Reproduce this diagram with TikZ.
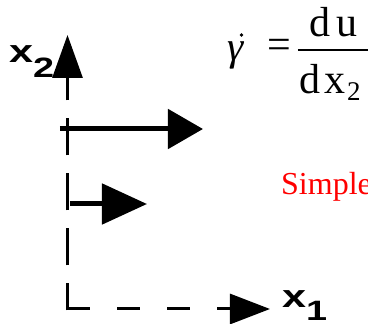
\documentclass[tikz,border=0pt]{standalone}
\usepackage{fontspec}
\setmainfont{Liberation Serif}
\newfontfamily\labelfont{Liberation Sans}
\usetikzlibrary{arrows.meta}
\tikzset{
  axisline/.style={line width=3pt},
  flowarrow/.style={line width=5pt},
  axislabel/.style={inner sep=0pt, font=\labelfont\bfseries\fontsize{32}{32}\selectfont},
  eqtext/.style={inner sep=0pt, font=\fontsize{42}{42}\selectfont},
}
\begin{document}
\begin{tikzpicture}[x=1pt,y=-1pt]
\useasboundingbox (0,0) rectangle (368,324);
% axes
\coordinate (O) at (67.5,309);
\coordinate (Ov) at (67.5,310.5);
\coordinate (T) at (67.5,35);
\coordinate (R) at (270,309);
\draw[axisline, dash pattern=on 37pt off 18pt, dash phase=10pt,
      -{Triangle[length=43pt,width=30pt]}] (Ov) -- (T);
\draw[axisline, dash pattern=on 22.5pt off 27.5pt,
      -{Triangle[length=40pt,width=30pt]}] (O) -- (R);
% velocity arrows
\coordinate (a1s) at (60,129);
\coordinate (a1e) at (203,129);
\coordinate (a2s) at (70,204);
\coordinate (a2e) at (147,204);
\draw[flowarrow, -{Triangle[length=35pt,width=39pt]}] (a1s) -- (a1e);
\draw[flowarrow, -{Triangle[length=45pt,width=40pt]}] (a2s) -- (a2e);
% axis labels
\node[axislabel, anchor=base west] (x2) at (9,63)
  {\scalebox{1.35}[1]{x\raisebox{-15pt}{\fontsize{28}{28}\selectfont 2}}};
\node[axislabel, anchor=base west] (x1) at (282,308)
  {\scalebox{1.35}[1]{x\raisebox{-13pt}{\fontsize{28}{28}\selectfont 1}}};
% equation
\node[inner sep=0pt, anchor=base west, font=\fontsize{41}{41}\selectfont\itshape] (gam) at (227,60) {γ};
\fill (241.5,35) circle (1.8pt);
\node[eqtext, anchor=base west] (eq) at (267,59) {=};
\coordinate (fb1) at (298,50);
\coordinate (fb2) at (372,50);
\draw[line width=1.8pt] (fb1) -- (fb2);
\node[eqtext, anchor=base west] (num) at (309.5,36) {d\hspace{6pt}u};
\node[eqtext, anchor=base west] (den) at (299,94) {d\hspace{4pt}x};
\node[inner sep=0pt, anchor=base west, font=\fontsize{27}{27}\selectfont] (sub) at (347,100) {2};
% caption
\node[inner sep=0pt, anchor=base west, text=red, font=\fontsize{32}{32}\selectfont] (simple) at (281,195) {Simple};
\end{tikzpicture}
\end{document}
